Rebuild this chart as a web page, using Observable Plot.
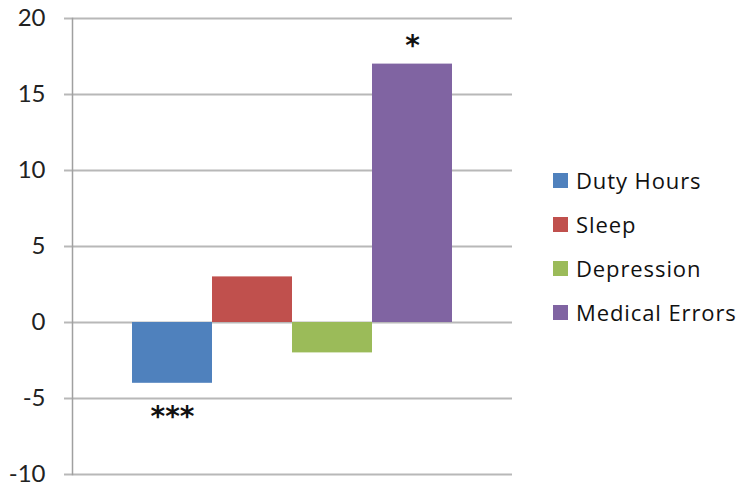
<!DOCTYPE html>
<html>
<head>
<meta charset="utf-8">
<script src="https://cdn.jsdelivr.net/npm/d3@7"></script>
<script src="https://cdn.jsdelivr.net/npm/@observablehq/plot@0.6"></script>
<style>
  html, body { margin: 0; padding: 0; background: #fff; }
  #wrap { position: relative; width: 750px; height: 495px; }
  #legend { position: absolute; left: 553px; top: 158px; font-family: "Open Sans", Lato, sans-serif; font-size: 22px; letter-spacing: 0.9px; color: #111; }
  .item { display: flex; align-items: center; height: 44px; white-space: nowrap; }
  .sw { width: 15px; height: 15px; margin-right: 8px; }
</style>
</head>
<body>
<div id="wrap"><div id="chart"></div><div id="legend"></div></div>
<script>
const series = ["Duty Hours", "Sleep", "Depression", "Medical Errors"];
const values = [-4, 3, -2, 17];
const colors = ["#4F81BD", "#C0504D", "#9BBB59", "#8064A2"];
const yTicks = [-10, -5, 0, 5, 10, 15, 20];
const annotationSeries = ["Duty Hours", "Medical Errors"];
const annotationLabels = ["***", "*"];

const data = series.map((s, i) => ({series: s, value: values[i]}));
const notes = annotationSeries.map((s, i) => ({series: s, label: annotationLabels[i], value: values[series.indexOf(s)]}));

const chart = Plot.plot({
  width: 750,
  height: 495,
  marginTop: 18,
  marginBottom: 21,
  marginLeft: 72,
  marginRight: 238,
  style: {fontFamily: "Lato, 'Open Sans', sans-serif", fontSize: "24px", color: "#222", background: "#fff"},
  x: {domain: series, paddingInner: 0, paddingOuter: 0.75, axis: null},
  y: {domain: [-10, 20], label: null},
  color: {domain: series, range: colors},
  marks: [
    Plot.ruleY(yTicks, {stroke: "#b8b8b8", strokeWidth: 2}),
    Plot.axisY({ticks: yTicks, tickFormat: d => String(d), tickSize: 8, tickPadding: 19, stroke: "#b8b8b8", strokeWidth: 2, fontSize: 24, fill: "#222", label: null}),
    Plot.frame({anchor: "left", stroke: "#a0a0a0", strokeWidth: 1.5}),
    Plot.barY(data, {x: "series", y: "value", fill: "series"}),
    Plot.text(notes, {x: "series", y: "value", text: "label", fontSize: 28, fontFamily: "DejaVu Sans", fontWeight: "bold", fill: "#111",
      lineAnchor: "middle", filter: d => d.value < 0, dy: 34}),
    Plot.text(notes, {x: "series", y: "value", text: "label", fontSize: 28, fontFamily: "DejaVu Sans", fontWeight: "bold", fill: "#111",
      lineAnchor: "middle", filter: d => d.value >= 0, dy: -18})
  ]
});
document.getElementById("chart").appendChild(chart);

const legend = document.getElementById("legend");
series.forEach((s, i) => {
  const item = document.createElement("div");
  item.className = "item";
  const sw = document.createElement("div");
  sw.className = "sw";
  sw.style.background = colors[i];
  const label = document.createElement("span");
  label.textContent = s;
  item.appendChild(sw);
  item.appendChild(label);
  legend.appendChild(item);
});
</script>
</body>
</html>
